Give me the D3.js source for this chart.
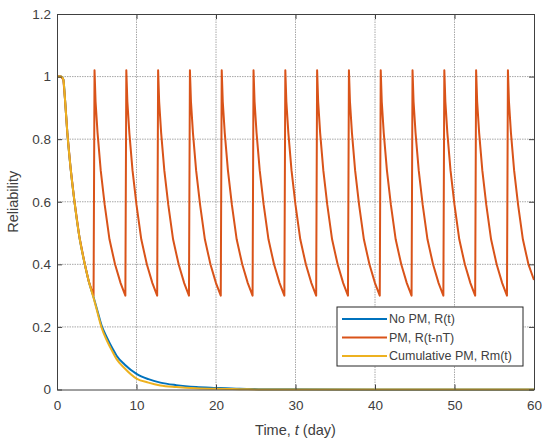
<!DOCTYPE html>
<html>
<head>
<meta charset="utf-8">
<script src="https://cdn.jsdelivr.net/npm/d3@7"></script>
<style>
  body { margin: 0; background: #fff; }
  text { font-family: "Liberation Sans", Arial, Helvetica, sans-serif; fill: #404040; }
</style>
</head>
<body>
<svg id="chart"></svg>
<script>
const xTicks = [0, 10, 20, 30, 40, 50, 60];
const yTicks = [0, 0.2, 0.4, 0.6, 0.8, 1, 1.2];
const seriesNames = ["No PM, R(t)", "PM, R(t-nT)", "Cumulative PM, Rm(t)"];

// No PM, R(t)
const noPmDays = [0, 0.5, 0.8, 1.0, 1.3, 1.7, 2.2, 2.8, 3.5, 4.0, 4.6, 5.1, 5.6, 6.3, 7.0, 7.5, 8.5, 10, 11.5, 13, 15, 17.5, 20, 23, 26, 30, 40, 60];
const noPmRel  = [1, 1, 0.99, 0.93, 0.82, 0.71, 0.60, 0.49, 0.40, 0.345, 0.295, 0.25, 0.205, 0.165, 0.13, 0.108, 0.08, 0.05, 0.033, 0.022, 0.014, 0.008, 0.005, 0.002, 0.001, 0.0005, 0, 0];

// Cumulative PM, Rm(t)
const cumPmDays = [0, 0.5, 0.8, 1.0, 1.3, 1.7, 2.2, 2.8, 3.5, 4.0, 4.6, 5.1, 5.6, 6.3, 7.0, 7.5, 8.5, 10, 11.5, 13, 15, 17.5, 20, 23, 26, 30, 40, 60];
const cumPmRel  = [1, 1, 0.99, 0.93, 0.82, 0.71, 0.60, 0.49, 0.40, 0.345, 0.293, 0.245, 0.198, 0.155, 0.12, 0.097, 0.068, 0.035, 0.022, 0.013, 0.008, 0.004, 0.002, 0.001, 0, 0, 0, 0];

// PM, R(t-nT) - one row per maintenance cycle
const pmDays = [
  0, 0.5, 0.8, 1.0, 1.3, 1.7, 2.2, 2.8, 3.5, 4.0, 4.6,
  4.72, 4.85, 5.1, 5.5, 6.0, 6.6, 7.3, 8.0, 8.6,
  8.72, 8.85, 9.1, 9.5, 10.0, 10.6, 11.3, 12.0, 12.6,
  12.72, 12.85, 13.1, 13.5, 14.0, 14.6, 15.3, 16.0, 16.6,
  16.72, 16.85, 17.1, 17.5, 18.0, 18.6, 19.3, 20.0, 20.6,
  20.72, 20.85, 21.1, 21.5, 22.0, 22.6, 23.3, 24.0, 24.6,
  24.72, 24.85, 25.1, 25.5, 26.0, 26.6, 27.3, 28.0, 28.6,
  28.72, 28.85, 29.1, 29.5, 30.0, 30.6, 31.3, 32.0, 32.6,
  32.72, 32.85, 33.1, 33.5, 34.0, 34.6, 35.3, 36.0, 36.6,
  36.72, 36.85, 37.1, 37.5, 38.0, 38.6, 39.3, 40.0, 40.6,
  40.72, 40.85, 41.1, 41.5, 42.0, 42.6, 43.3, 44.0, 44.6,
  44.72, 44.85, 45.1, 45.5, 46.0, 46.6, 47.3, 48.0, 48.6,
  48.72, 48.85, 49.1, 49.5, 50.0, 50.6, 51.3, 52.0, 52.6,
  52.72, 52.85, 53.1, 53.5, 54.0, 54.6, 55.3, 56.0, 56.6,
  56.72, 56.85, 57.1, 57.5, 58.0, 58.6, 59.3, 60.0
];
const pmRel = [
  1, 1, 0.99, 0.93, 0.82, 0.71, 0.60, 0.49, 0.40, 0.345, 0.30,
  1.02, 0.92, 0.82, 0.70, 0.59, 0.48, 0.40, 0.34, 0.30,
  1.02, 0.92, 0.82, 0.70, 0.59, 0.48, 0.40, 0.34, 0.30,
  1.02, 0.92, 0.82, 0.70, 0.59, 0.48, 0.40, 0.34, 0.30,
  1.02, 0.92, 0.82, 0.70, 0.59, 0.48, 0.40, 0.34, 0.30,
  1.02, 0.92, 0.82, 0.70, 0.59, 0.48, 0.40, 0.34, 0.30,
  1.02, 0.92, 0.82, 0.70, 0.59, 0.48, 0.40, 0.34, 0.30,
  1.02, 0.92, 0.82, 0.70, 0.59, 0.48, 0.40, 0.34, 0.30,
  1.02, 0.92, 0.82, 0.70, 0.59, 0.48, 0.40, 0.34, 0.30,
  1.02, 0.92, 0.82, 0.70, 0.59, 0.48, 0.40, 0.34, 0.30,
  1.02, 0.92, 0.82, 0.70, 0.59, 0.48, 0.40, 0.34, 0.30,
  1.02, 0.92, 0.82, 0.70, 0.59, 0.48, 0.40, 0.34, 0.30,
  1.02, 0.92, 0.82, 0.70, 0.59, 0.48, 0.40, 0.34, 0.30,
  1.02, 0.92, 0.82, 0.70, 0.59, 0.48, 0.40, 0.34, 0.30,
  1.02, 0.92, 0.82, 0.70, 0.59, 0.48, 0.40, 0.35
];

const colors = ["#0072BD", "#D95319", "#EDB120"];

const margin = {top: 14, right: 8, bottom: 49.5, left: 57},
    width = 542 - margin.left - margin.right,
    height = 439 - margin.top - margin.bottom;

const svg = d3.select("#chart")
    .attr("width", 542)
    .attr("height", 439);

const g = svg.append("g").attr("transform", `translate(${margin.left},${margin.top})`);

const x = d3.scaleLinear().domain([0, 60]).range([0, width]);
const y = d3.scaleLinear().domain([0, 1.2]).range([height, 0]);

// grid
g.append("g")
    .attr("class", "grid")
    .selectAll("line.gx")
    .data(xTicks.slice(1, -1))
    .enter().append("line")
        .attr("x1", d => x(d)).attr("x2", d => x(d))
        .attr("y1", 0).attr("y2", height);
g.select(".grid")
    .selectAll("line.gy")
    .data(yTicks.slice(1, -1))
    .enter().append("line")
        .attr("x1", 0).attr("x2", width)
        .attr("y1", d => y(d)).attr("y2", d => y(d));
g.selectAll(".grid line")
    .attr("stroke", "#a8a8a8")
    .attr("stroke-dasharray", "1.5,1")
    .attr("stroke-width", 1);

// lines
const line = d3.line()
    .x(d => x(d[0]))
    .y(d => y(d[1]));

const noPm = noPmDays.map((t, i) => [t, noPmRel[i]]);
const pm = pmDays.map((t, i) => [t, pmRel[i]]);
const cumPm = cumPmDays.map((t, i) => [t, cumPmRel[i]]);

g.append("path").datum(noPm)
    .attr("d", line.curve(d3.curveMonotoneX))
    .attr("fill", "none").attr("stroke", colors[0]).attr("stroke-width", 2);
g.append("path").datum(pm)
    .attr("d", line.curve(d3.curveLinear))
    .attr("fill", "none").attr("stroke", colors[1]).attr("stroke-width", 2)
    .attr("stroke-linejoin", "round");
g.append("path").datum(cumPm)
    .attr("d", line.curve(d3.curveMonotoneX))
    .attr("fill", "none").attr("stroke", colors[2]).attr("stroke-width", 2);

// axes
const axisColor = "#404040";
const xAxis = g.append("g")
    .attr("transform", `translate(0,${height})`)
    .call(d3.axisBottom(x).tickValues(xTicks).tickSize(-5).tickSizeOuter(0).tickPadding(11));
const yAxis = g.append("g")
    .call(d3.axisLeft(y).tickValues(yTicks).tickSize(-5).tickSizeOuter(0).tickPadding(6).tickFormat(d3.format("~g")));
const xTop = g.append("g")
    .call(d3.axisTop(x).tickValues(xTicks).tickSize(-5).tickSizeOuter(0).tickFormat(""));
const yRight = g.append("g")
    .attr("transform", `translate(${width},0)`)
    .call(d3.axisRight(y).tickValues(yTicks).tickSize(-5).tickSizeOuter(0).tickFormat(""));

[xAxis, yAxis, xTop, yRight].forEach(a => {
    a.select(".domain").attr("stroke", axisColor);
    a.selectAll(".tick line").attr("stroke", axisColor);
    a.selectAll(".tick text")
        .attr("fill", axisColor)
        .style("font-size", "13.5px");
});

g.append("text")
    .attr("transform", "rotate(-90)")
    .attr("x", -height / 2)
    .attr("y", -39)
    .attr("text-anchor", "middle")
    .style("font-size", "14.5px")
    .text("Reliability");

const xLabel = g.append("text")
    .attr("x", width / 2)
    .attr("y", height + 45)
    .attr("text-anchor", "middle")
    .style("font-size", "14.5px");
xLabel.append("tspan").text("Time, ");
xLabel.append("tspan").style("font-style", "italic").text("t");
xLabel.append("tspan").text(" (day)");

// legend
const legend = svg.append("g").attr("transform", "translate(337,307)");
legend.append("rect")
    .attr("width", 186).attr("height", 59)
    .attr("fill", "#fff").attr("stroke", "#262626").attr("stroke-width", 1);

const rows = legend.selectAll(".row")
    .data(seriesNames)
    .enter().append("g")
        .attr("class", "row")
        .attr("transform", (d, i) => `translate(0,${12 + i * 18.5})`);
rows.append("line")
    .attr("x1", 5).attr("x2", 50)
    .attr("stroke", (d, i) => colors[i])
    .attr("stroke-width", 2);
rows.append("text")
    .attr("x", 52)
    .attr("dy", "0.35em")
    .style("font-size", "12.5px")
    .text(d => d);
</script>
</body>
</html>
